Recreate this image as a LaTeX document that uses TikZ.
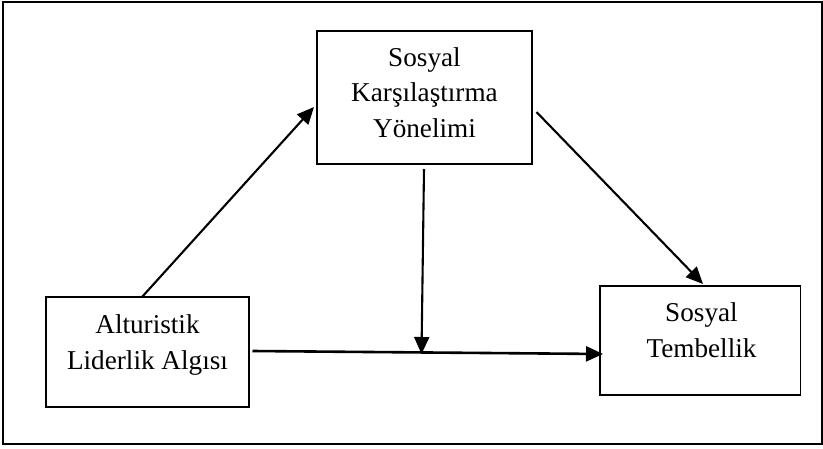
\documentclass[tikz,border=0pt]{standalone}
\usepackage{fontspec}
\setmainfont{Liberation Serif}
\usetikzlibrary{arrows.meta}
\begin{document}
\begin{tikzpicture}[x=1pt,y=-1pt,
  frame/.style={draw, line width=2pt, inner sep=0pt},
  box/.style={draw, line width=1.7pt, inner sep=0pt},
  lbl/.style={align=center, font=\fontsize{27.2}{35.4}\selectfont, inner sep=0pt, anchor=base},
  conn/.style={line width=2.1pt, -{Triangle[length=17pt,width=15pt]}}]
\useasboundingbox (0,0) rectangle (823,448);
\node[frame, minimum width=819pt, minimum height=442pt] (outer) at (412.5,223) {};
% boxes
\node[box, minimum width=215pt, minimum height=133pt] (med) at (424.5,97.5) {};
\node[box, minimum width=203pt, minimum height=110pt] (ind) at (147.5,352) {};
\node[box, minimum width=200.5pt, minimum height=109pt] (dep) at (700.25,340.5) {};
% labels (base anchor = baseline of the last line)
\node[lbl] (medtxt) at (424.5,137.3) {Sosyal\\Karşılaştırma\\Yönelimi};
\node[lbl] (indtxt) at (147.5,369.3) {Alturistik\\Liderlik Algısı};
\node[lbl] (deptxt) at (701.5,357.3) {Sosyal\\Tembellik};
% connector end points
\coordinate (a1s) at (142,297);
\coordinate (a1e) at (314,107);
\coordinate (a2s) at (536.5,112);
\coordinate (a2e) at (703,284);
\coordinate (a3s) at (424,169);
\coordinate (a3e) at (421.5,354);
\coordinate (a4s) at (252.5,351);
\coordinate (a4e) at (603,354);
\draw[conn] (a1s) -- (a1e);
\draw[conn] (a2s) -- (a2e);
\draw[conn] (a3s) -- (a3e);
\draw[conn, line width=2.6pt] (a4s) -- (a4e);
\end{tikzpicture}
\end{document}
